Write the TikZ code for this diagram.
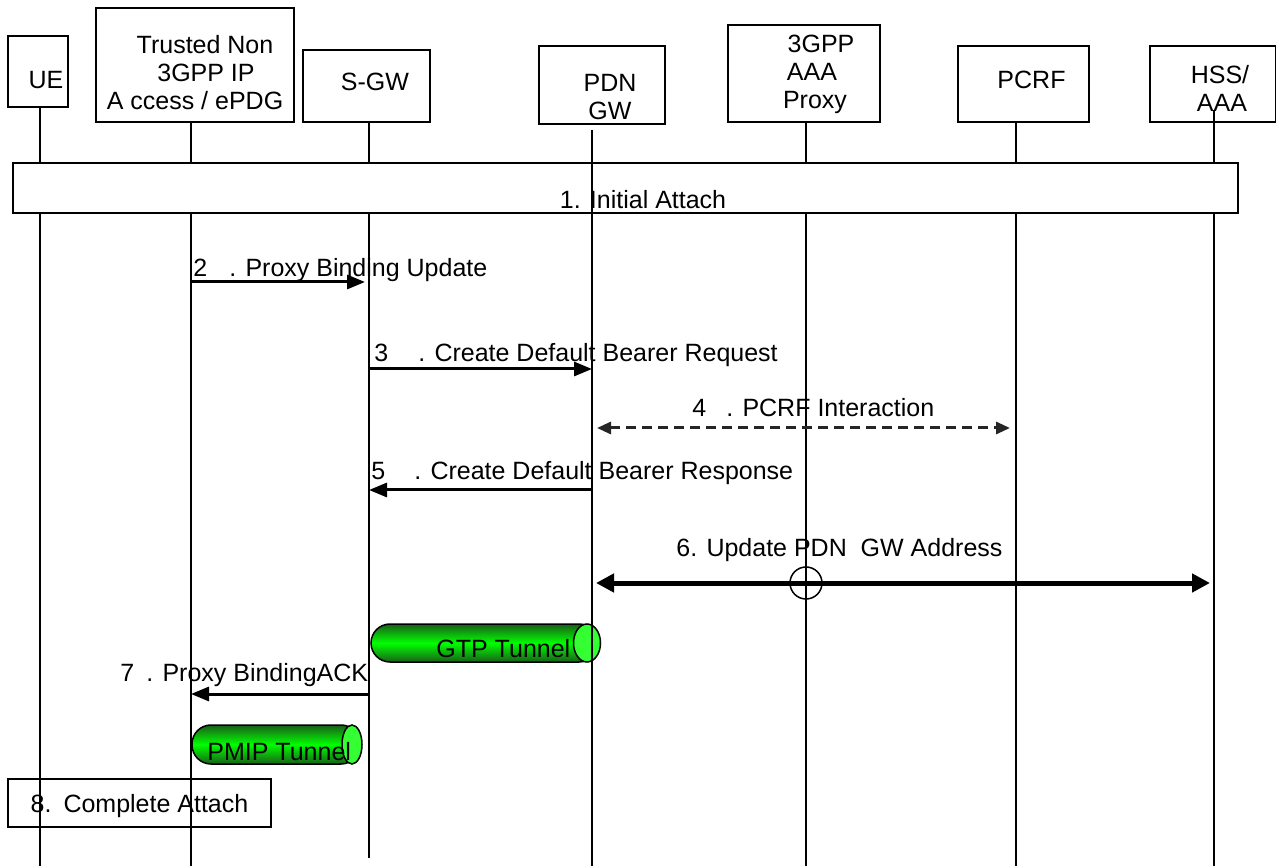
\documentclass[tikz,border=0pt]{standalone}
\usepackage{fontspec}
\setmainfont{Liberation Sans}
\usetikzlibrary{arrows.meta, positioning}
\newcommand{\msgfont}{\fontsize{12.5}{14}\selectfont}
\definecolor{tunnelgreen}{RGB}{0,255,0}
\definecolor{tunneldark}{RGB}{25,95,25}
\definecolor{tunnelend}{RGB}{51,255,51}
\tikzset{
  entity/.style={rectangle, draw, line width=0.75pt, fill=white, align=center, font=\msgfont, inner sep=0pt},
  phasebox/.style={rectangle, draw, line width=0.75pt, fill=white, font=\msgfont, inner sep=0pt},
  lifeline/.style={line width=0.75pt},
  msg/.style={line width=1.5pt, -{Triangle[length=9pt,width=7pt]}},
  dmsg/.style={line width=1.5pt, black!85, dash pattern=on 5pt off 3pt, {Triangle[length=7pt,width=6pt]}-{Triangle[length=7pt,width=6pt]}},
  bmsg/.style={line width=2.5pt, {Triangle[length=9pt,width=9pt]}-{Triangle[length=9pt,width=9pt]}},
  lbl/.style={font=\msgfont, inner sep=0pt, anchor=base west},
  tunnel/.style={draw, line width=0.75pt, top color=tunneldark, bottom color=tunneldark, middle color=tunnelgreen},
  tunnelend/.style={draw, line width=0.75pt, fill=tunnelend},
}

\begin{document}
\begin{tikzpicture}[x=0.5pt, y=-0.5pt]
  \useasboundingbox (0,0) rectangle (1276,866);

  % --- Tunnels ---
  \path[tunnel, rounded corners=9.5pt] (371,624) rectangle (598,662);
  \path[tunnelend] (587,643) ellipse [x radius=6.75pt, y radius=9.5pt];
  \node[lbl] (gtp) at (436,657) {GTP Tunnel};
  \path[tunnel, rounded corners=9.5pt] (192,725) rectangle (360,764);
  \path[tunnelend] (352,744.5) ellipse [x radius=5pt, y radius=9.75pt];
  \node[lbl] (pmip) at (207,760) {PMIP Tunnel};

  % --- Entities ---
  \node[entity, minimum width=30pt, minimum height=35.5pt, text height=17.5pt] (ue) at (38,71.5) {\hspace*{8pt}UE};
  \node[entity, minimum width=99pt, minimum height=57pt, text height=45pt, text depth=0pt] (tna) at (195,65)
        {\hspace*{10pt}Trusted Non\\\hspace*{11pt}3GPP IP\\A ccess / ePDG};
  \node[entity, minimum width=63.5pt, minimum height=36pt, text height=5pt] (sgw) at (366.5,86) {\hspace*{8.5pt}S-GW};
  \node[entity, minimum width=63pt, minimum height=39pt, text height=35pt, text depth=0pt] (pgw) at (602,85)
        {\hspace*{8pt}PDN\\\hspace*{8pt}GW};
  \node[entity, minimum width=76pt, minimum height=48.5pt, text height=35.5pt, text depth=0pt] (aaa) at (804,73.5)
        {\hspace*{17pt}3GPP\\\hspace*{8pt}AAA\\\hspace*{11pt}Proxy};
  \node[entity, minimum width=65.5pt, minimum height=38pt, text height=5pt] (pcrf) at (1023.5,84) {\hspace*{8pt}PCRF};
  \node[entity, minimum width=63pt, minimum height=38pt, text height=28pt, text depth=0pt] (hss) at (1213,84)
        {\hspace*{7pt}HSS/\\\hspace*{9pt}AAA};

  % --- Phases ---
  \node[phasebox, minimum width=612.5pt, minimum height=25pt, text height=21pt, text depth=0pt] (attach) at (625.5,188)
        {\hspace*{17.5pt}1. Initial Attach};
  \node[phasebox, minimum width=131.5pt, minimum height=24pt, text height=11.6pt, text depth=2.6pt] (complete) at (139.5,803)
        {8.\hspace{6pt}Complete Attach};

  % --- Lifelines ---
  \coordinate (uel) at (40,107);
  \coordinate (tnal) at (191,122);
  \coordinate (sgwl) at (369,122);
  \coordinate (pgwl) at (592,130);
  \coordinate (aaal) at (806,122);
  \coordinate (pcrfl) at (1016,122);
  \coordinate (hssl) at (1214,110);
  \foreach \l in {uel,tnal,aaal,pcrfl,hssl} {
    \draw[lifeline] (\l) -- (\l |- attach.north);
    \draw[lifeline] (\l |- attach.south) -- (\l |- 0,866);
  }
  \draw[lifeline] (sgwl) -- (sgwl |- attach.north);
  \draw[lifeline] (sgwl |- attach.south) -- (sgwl |- 0,858);
  \draw[lifeline] (pgwl) -- (pgwl |- 0,866);

  % --- Messages ---
  \draw[msg, shorten >=2pt] (tnal |- 0,282) -- (sgwl |- 0,282);
  \draw[msg] (sgwl |- 0,369) -- (pgwl |- 0,369);
  \draw[dmsg, shorten <=2.5pt, shorten >=3pt] (pgwl |- 0,428) -- (pcrfl |- 0,428);
  \draw[msg] (pgwl |- 0,490) -- (sgwl |- 0,490);
  \draw[bmsg, shorten <=2pt, shorten >=2pt] (pgwl |- 0,583) -- (hssl |- 0,583);
  \node[circle, draw, line width=0.75pt, minimum size=16pt, inner sep=0pt] (cross) at (aaal |- 0,583) {};
  \draw[msg] (sgwl |- 0,694) -- (tnal |- 0,694);

  % --- Message labels ---
  \node[lbl] (m2) at (193,277) {2\hspace{11pt}. Proxy Binding Update};
  \node[lbl] (m3) at (374,362) {3\hspace{15pt}. Create Default Bearer Request};
  \node[lbl] (m4) at (692,417) {4\hspace{10pt}. PCRF Interaction};
  \node[lbl] (m5) at (371,480) {5\hspace{14.5pt}. Create Default Bearer Response};
  \node[lbl] (m6) at (676,556) {6. Update PDN\ \ GW Address};
  \node[lbl] (m7) at (120,681) {7\hspace{6pt}. Proxy BindingACK};

\end{tikzpicture}
\end{document}
